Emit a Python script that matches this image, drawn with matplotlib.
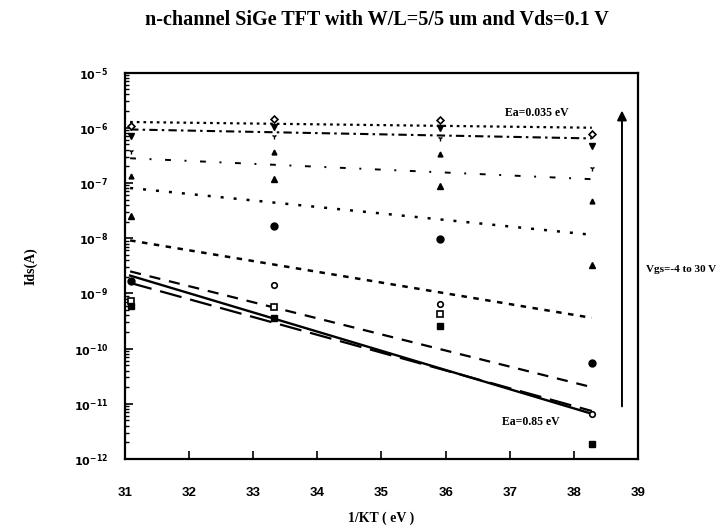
import numpy as np
import matplotlib
matplotlib.use("Agg")
import matplotlib.pyplot as plt
from matplotlib.ticker import LogLocator, FuncFormatter, NullFormatter

# Temperature points (1/kT, eV^-1)
x_pts = [31.1, 33.33, 35.91, 38.28]

# Measured Ids values (A) at each temperature, one list per marker series
ids_diamond = [1.07e-6, 1.42e-6, 1.38e-6, 7.7e-7]
ids_dtri = [7.1e-7, 1.04e-6, 1.0e-6, 4.7e-7]
ids_vsmall = [3.8e-7, 7.1e-7, 6.6e-7, 1.9e-7]
ids_star = [1.34e-7, 3.7e-7, 3.3e-7, 4.8e-8]
ids_tri = [2.5e-8, 1.2e-7, 8.7e-8, 3.2e-9]
ids_fcircle = [1.66e-9, 1.66e-8, 9.5e-9, 5.5e-11]
ids_ocircle = [np.nan, 1.4e-9, 6.3e-10, 6.6e-12]
ids_osquare = [7.2e-10, 5.6e-10, 4.3e-10, np.nan]
ids_fsquare = [6.0e-10, 3.6e-10, 2.6e-10, 1.9e-12]

# Arrhenius fit lines: values at the two ends
fit_x = [31.08, 38.28]
fit_1 = [1.27e-6, 1.0e-6]
fit_2 = [9.3e-7, 6.4e-7]
fit_3 = [2.8e-7, 1.17e-7]
fit_4 = [8.1e-8, 1.15e-8]
fit_5 = [9.1e-9, 3.6e-10]
fit_6 = [2.5e-9, 2.0e-11]
fit_7 = [2.1e-9, 6.6e-12]
fit_8 = [1.55e-9, 7.4e-12]

serif = ["Liberation Serif", "DejaVu Serif"]
sans = ["Liberation Sans", "DejaVu Sans"]

fig = plt.figure(figsize=(7.25, 5.32), dpi=100)
ax = fig.add_axes([0.1724, 0.1372, 0.7076, 0.7265])

# fit lines
ax.plot(fit_x, fit_1, color="black", lw=1.6, linestyle=(0, (1.2, 1.8)))
ax.plot(fit_x, fit_2, color="black", lw=1.5, linestyle=(0, (4, 2, 1.2, 2)))
ax.plot(fit_x, fit_3, color="black", lw=1.4, linestyle=(0, (3, 7, 1, 7)))
ax.plot(fit_x, fit_4, color="black", lw=1.8, linestyle=(0, (1.2, 4)))
ax.plot(fit_x, fit_5, color="black", lw=1.8, linestyle=(0, (2.2, 2.6)))
ax.plot(fit_x, fit_6, color="black", lw=1.6, linestyle=(0, (5, 4)))
ax.plot(fit_x, fit_7, color="black", lw=1.7, linestyle="-")
ax.plot(fit_x, fit_8, color="black", lw=1.6, linestyle=(0, (10, 4)))

# measured points
ax.plot(x_pts, ids_diamond, linestyle="none", marker="D", ms=3.5, mfc="white", mec="black", mew=1.2)
ax.plot(x_pts, ids_dtri, linestyle="none", marker="v", ms=5, color="black")
ax.plot(x_pts, ids_vsmall, linestyle="none", marker="1", ms=4, color="black")
ax.plot(x_pts, ids_star, linestyle="none", marker="^", ms=3.5, color="black")
ax.plot(x_pts, ids_tri, linestyle="none", marker="^", ms=5, color="black")
ax.plot(x_pts, ids_fcircle, linestyle="none", marker="o", ms=5, color="black")
ax.plot(x_pts, ids_ocircle, linestyle="none", marker="o", ms=4, mfc="white", mec="black", mew=1.2)
ax.plot(x_pts, ids_osquare, linestyle="none", marker="s", ms=4.5, mfc="white", mec="black", mew=1.2)
ax.plot(x_pts, ids_fsquare, linestyle="none", marker="s", ms=4.5, color="black")

ax.set_yscale("log")
ax.set_xlim(31, 39)
ax.set_ylim(1e-12, 1e-5)

ax.set_xticks(range(31, 40))
ax.yaxis.set_major_locator(LogLocator(base=10, numticks=20))
ax.yaxis.set_minor_locator(LogLocator(base=10, subs=np.arange(2, 10), numticks=100))
ax.yaxis.set_minor_formatter(NullFormatter())
ax.yaxis.set_major_formatter(FuncFormatter(lambda v, p: r"$\mathbf{10^{%d}}$" % round(np.log10(v))))

ax.tick_params(axis="x", which="major", direction="in", length=6, width=1.2, pad=20,
               labelsize=9.5, top=False)
ax.tick_params(axis="y", which="major", direction="in", length=6, width=1.2, pad=12,
               labelsize=8, right=False)
ax.tick_params(axis="y", which="minor", direction="in", length=3, width=1.0, right=False)
for lab in ax.get_xticklabels():
    lab.set_fontweight("bold")
    lab.set_family(sans)

for sp in ax.spines.values():
    sp.set_linewidth(1.6)

ax.set_xlabel("1/KT ( eV )", fontsize=10, fontweight="bold", family=serif)
ax.xaxis.set_label_coords(0.5, -0.135)
ax.set_ylabel("Ids(A)", fontsize=10, fontweight="bold", family=serif)
ax.yaxis.set_label_coords(-0.17, 0.5)

fig.text(0.52, 0.962, "n-channel SiGe TFT with W/L=5/5 um and Vds=0.1 V",
         ha="center", va="center", fontsize=14.5, fontweight="bold", family=serif)

ax.text(36.93, 1.85e-6, "Ea=0.035 eV", fontsize=8.5, fontweight="bold", family=serif,
        va="center", ha="left")
ax.text(36.88, 4.6e-12, "Ea=0.85 eV", fontsize=8.5, fontweight="bold", family=serif,
        va="center", ha="left")
ax.text(39.12, 2.7e-9, "Vgs=-4 to 30 V", fontsize=8, fontweight="bold", family=serif,
        va="center", ha="left", clip_on=False)

ax.annotate("", xy=(38.75, 2.3e-6), xytext=(38.75, 8e-12),
            arrowprops=dict(arrowstyle="-|>", color="black", lw=1.4, mutation_scale=14))

fig.savefig("out.png", dpi=100)
